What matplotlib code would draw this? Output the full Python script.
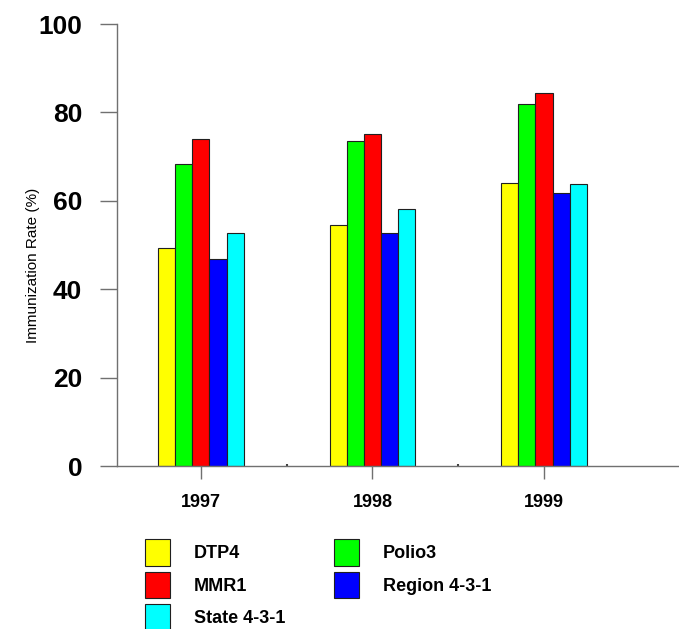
import matplotlib
matplotlib.use("Agg")
import matplotlib.pyplot as plt
import numpy as np

years = ["1997", "1998", "1999"]
series = ["DTP4", "Polio3", "MMR1", "Region 4-3-1", "State 4-3-1"]
dtp4 = [49.4, 54.5, 64.0]
polio3 = [68.3, 73.5, 81.9]
mmr1 = [74.0, 75.2, 84.3]
region431 = [46.8, 52.7, 61.7]
state431 = [52.7, 58.2, 63.7]
colors = ["#ffff00", "#00ff00", "#ff0000", "#0000ff", "#00ffff"]

plt.rcParams["font.family"] = ["Liberation Sans", "DejaVu Sans"]

fig = plt.figure(figsize=(6.79, 6.29), dpi=100)
ax = fig.add_axes([0.1728, 0.2591, 0.8272, 0.7027])

x = np.arange(len(years))
w = 0.1
bars = []
for i, (vals, c) in enumerate(zip([dtp4, polio3, mmr1, region431, state431], colors)):
    b = ax.bar(x + (i - 2) * w, vals, w, color=c, edgecolor="#202020", linewidth=0.8,
               label=series[i])
    bars.append(b)

ax.set_xlim(-0.486, 2.786)
ax.set_ylim(0, 100)
ax.set_yticks([0, 20, 40, 60, 80, 100])
ax.set_xticks(x)
ax.set_xticklabels(years)
ax.set_xticks([0.5, 1.5], minor=True)

for s in ["top", "right"]:
    ax.spines[s].set_visible(False)
for s in ["left", "bottom"]:
    ax.spines[s].set_color("#707070")
    ax.spines[s].set_linewidth(1.0)

ax.tick_params(axis="y", length=12.3, width=1, color="#707070", pad=13, labelsize=19)
ax.tick_params(axis="x", which="major", length=9.4, width=1, color="#707070", pad=10.5, labelsize=13)
ax.tick_params(axis="x", which="minor", length=1.5, width=1.5, color="#404040", direction="in")
for lab in ax.get_yticklabels() + ax.get_xticklabels():
    lab.set_fontweight("bold")

ax.set_ylabel("Immunization Rate (%)", fontsize=11)
ax.yaxis.set_label_coords(-0.138, 0.455)

# legend fills by column, so order handles to read DTP4 / Polio3 across
order = [0, 2, 4, 1, 3]
ax.legend([bars[i] for i in order], [series[i] for i in order], ncol=2,
          loc="upper left", bbox_to_anchor=(0.2135, 0.1431), bbox_transform=fig.transFigure,
          frameon=False, borderpad=0, borderaxespad=0,
          handlelength=1.39, handleheight=1.9, handletextpad=1.3,
          labelspacing=0.33, columnspacing=2.72,
          prop={"size": 13, "weight": "bold"})

fig.savefig("out.png", dpi=100)
